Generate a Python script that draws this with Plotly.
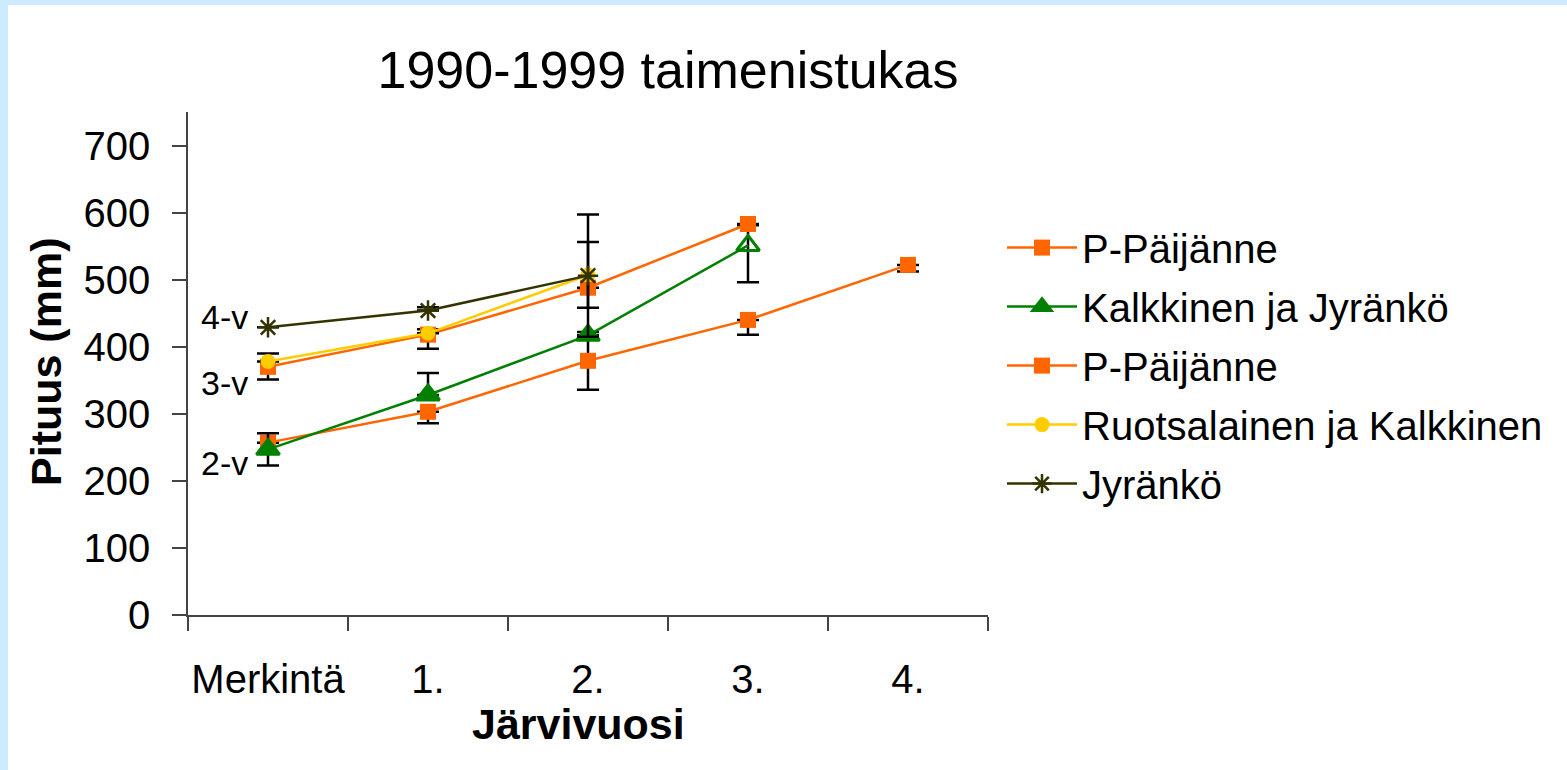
import plotly.graph_objects as go

# categories on the x axis
jarvivuosi = ["Merkintä", "1.", "2.", "3.", "4."]

# mean lengths (mm) per series
p_paijanne_2v = [257, 303, 379, 440, 522]
kalkkinen_jyranko_2v = [247, 328, 417, 551, None]
p_paijanne_3v = [370, 418, 488, 583, None]
ruotsalainen_kalkkinen_3v = [378, 420, 507, None, None]
jyranko_4v = [429, 454, 506, None, None]

# error bar extents (plus / minus), mm
p2_plus = [0, 0, 43, 0, 0]
p2_minus = [0, 17, 43, 22, 10]
kj2_plus = [24, 33, 0, 30, 0]
kj2_minus = [24, 0, 0, 55, 0]
p3_plus = [20, 8, 0, 0, 0]
p3_minus = [19, 21, 0, 0, 0]
rk3_plus = [0, 0, 49, 0, 0]
rk3_minus = [0, 0, 49, 0, 0]
j4_plus = [0, 5, 91, 0, 0]
j4_minus = [0, 0, 91, 0, 0]

FONT = "Liberation Sans, Arial, sans-serif"
ORANGE = "#FF6600"
GREEN = "#008000"
YELLOW = "#FFCC00"
DARK = "#333300"


def err(plus, minus):
    return dict(type="data", symmetric=False, array=plus, arrayminus=minus,
                color="black", thickness=2.5, width=11)


fig = go.Figure()
fig.add_scatter(
    x=jarvivuosi, y=p_paijanne_2v, name="P-Päijänne", legendgroup="a",
    mode="lines+markers", line=dict(color=ORANGE, width=2.5),
    marker=dict(symbol="square", size=16, color=ORANGE),
    error_y=err(p2_plus, p2_minus),
)
fig.add_scatter(
    x=jarvivuosi, y=kalkkinen_jyranko_2v, name="Kalkkinen ja Jyränkö", legendgroup="b",
    mode="lines+markers", line=dict(color=GREEN, width=2.5),
    marker=dict(symbol=["triangle-up", "triangle-up", "triangle-up", "triangle-up-open", "triangle-up"],
                size=20, color=GREEN, line=dict(color=GREEN, width=3)),
    error_y=err(kj2_plus, kj2_minus),
)
fig.add_scatter(
    x=jarvivuosi, y=p_paijanne_3v, name="P-Päijänne", legendgroup="c",
    mode="lines+markers", line=dict(color=ORANGE, width=2.5),
    marker=dict(symbol="square", size=16, color=ORANGE),
    error_y=err(p3_plus, p3_minus),
)
fig.add_scatter(
    x=jarvivuosi, y=ruotsalainen_kalkkinen_3v, name="Ruotsalainen ja Kalkkinen", legendgroup="d",
    mode="lines+markers", line=dict(color=YELLOW, width=2.5),
    marker=dict(symbol="circle", size=15, color=YELLOW),
    error_y=err(rk3_plus, rk3_minus),
)
fig.add_scatter(
    x=jarvivuosi, y=jyranko_4v, name="Jyränkö", legendgroup="e",
    mode="lines+markers", line=dict(color=DARK, width=2.5),
    marker=dict(symbol="asterisk", size=17, color=DARK, line=dict(color=DARK, width=2.5)),
    error_y=err(j4_plus, j4_minus),
)

# age group labels next to the first column
for txt, yv in [("4-v", 445), ("3-v", 346), ("2-v", 226)]:
    fig.add_annotation(x=0.046, xref="paper", xanchor="center", y=yv, yref="y", yanchor="middle",
                       text=txt, showarrow=False, font=dict(family=FONT, size=34, color="black"))

fig.add_annotation(x=-0.1775, xref="paper", xanchor="center", y=0.503, yref="paper",
                   yanchor="middle", text="<b>Pituus (mm)</b>", textangle=-90, showarrow=False,
                   font=dict(family=FONT, size=43, color="black"))
fig.add_annotation(x=0.4875, xref="paper", xanchor="center", y=-0.216, yref="paper",
                   yanchor="middle", text="<b>Järvivuosi</b>", showarrow=False,
                   font=dict(family=FONT, size=43, color="black"))

# white page inside the light blue frame
fig.add_shape(type="rect", xref="paper", yref="paper", x0=-0.225, x1=1.75, y0=-0.35, y1=1.2127,
              fillcolor="white", line=dict(width=0), layer="below")

fig.update_layout(
    width=1567, height=770,
    paper_bgcolor="#CCEBFF", plot_bgcolor="white",
    margin=dict(l=188, r=579, t=112, b=155, autoexpand=False),
    font=dict(family=FONT, size=40, color="black"),
    title=dict(text="1990-1999 taimenistukas", x=0.6, xref="paper", xanchor="center",
               y=1 - 70 / 770, yref="container", yanchor="middle",
               font=dict(family=FONT, size=52, color="black")),
    showlegend=True,
    legend=dict(x=1.0175, xanchor="left", y=0.795, yanchor="top", tracegroupgap=4,
                font=dict(family=FONT, size=40, color="black"), itemwidth=70,
                bgcolor="rgba(0,0,0,0)"),
)
fig.update_xaxes(
    type="category", range=[-0.5, 4.5], tickson="boundaries", ticks="outside", ticklen=14,
    tickwidth=1.5, tickcolor="#444", showline=True, linecolor="#444", linewidth=1.5,
    showgrid=False, zeroline=False, ticklabelstandoff=28, tickangle=0, automargin=False,
    tickfont=dict(family=FONT, size=40, color="black"),
)
fig.update_yaxes(
    range=[0, 750], tickvals=[0, 100, 200, 300, 400, 500, 600, 700], ticks="outside", ticklen=14,
    tickwidth=1.5, tickcolor="#444", showline=True, linecolor="#444", linewidth=1.5,
    showgrid=False, zeroline=False, ticklabelstandoff=14, automargin=False,
    tickfont=dict(family=FONT, size=40, color="black"),
)

fig.write_html("out.html", config={"displayModeBar": False},
               post_script="document.body.style.margin='0';")
